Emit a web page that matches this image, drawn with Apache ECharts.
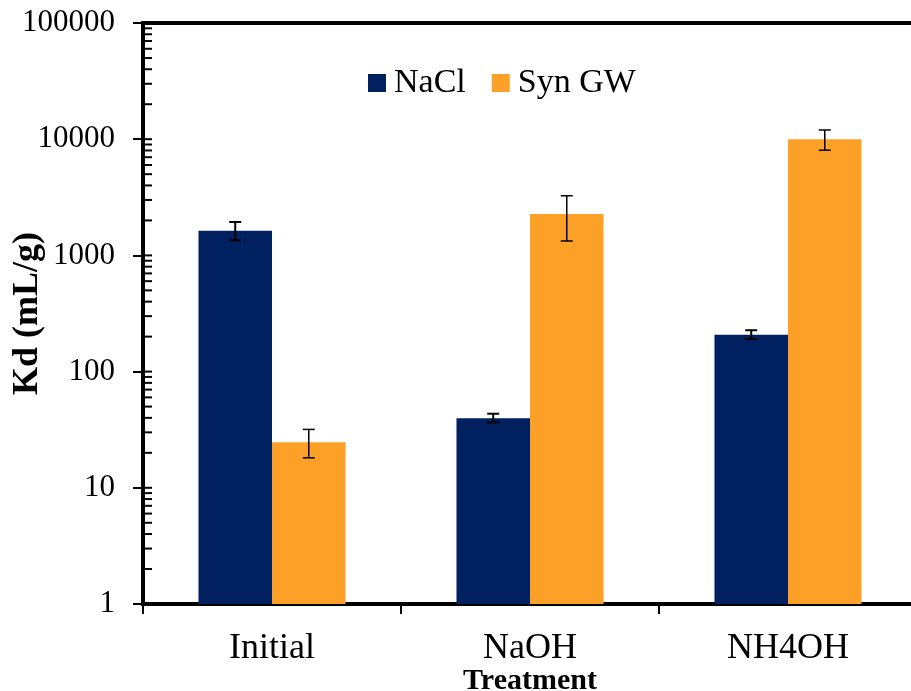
<!DOCTYPE html>
<html>
<head>
<meta charset="utf-8">
<script src="https://cdn.jsdelivr.net/npm/echarts@6/dist/echarts.min.js"></script>
<style>
  html, body { margin: 0; padding: 0; background: #fff; }
  #chart { width: 911px; height: 691px; }
</style>
</head>
<body>
<div id="chart"></div>
<script>
  // categories and values
  var categories = ['Initial', 'NaOH', 'NH4OH'];
  var seriesNames = ['NaCl', 'Syn GW'];
  var nacl = [1630, 39.6, 208];
  var synGW = [24.7, 2270, 10000];
  var naclLow = [1350, 36.6, 191];
  var naclHigh = [1940, 43.4, 227];
  var synLow = [18.1, 1330, 8040];
  var synHigh = [31.8, 3260, 12000];
  var minorTickValues = [];
  for (var k = 0; k < 5; k++) {
    for (var m = 1; m <= 9; m++) minorTickValues.push(m * Math.pow(10, k));
  }
  minorTickValues.push(100000);

  var font = "'Liberation Serif', 'Times New Roman', serif";
  var catGap = 0.43;

  function errData(low, high) {
    return low.map(function (v, i) { return [i, v, high[i]]; });
  }

  // error bars, side = -1 for left bar, +1 for right bar
  function errorRender(side, lw) {
    return function (params, api) {
      var i = api.value(0);
      var band = api.size([1, 0])[0];
      var off = side * band * (1 - catGap) / 4;
      var lo = api.coord([i, api.value(1)]);
      var hi = api.coord([i, api.value(2)]);
      var x = lo[0] + off;
      var cap = 6;
      var st = { stroke: '#000', lineWidth: lw };
      return {
        type: 'group',
        children: [
          { type: 'line', shape: { x1: x, y1: hi[1], x2: x, y2: lo[1] }, style: st },
          { type: 'line', shape: { x1: x - cap, y1: hi[1], x2: x + cap, y2: hi[1] }, style: st },
          { type: 'line', shape: { x1: x - cap, y1: lo[1], x2: x + cap, y2: lo[1] }, style: st }
        ]
      };
    };
  }

  var myChart = echarts.init(document.getElementById('chart'));
  myChart.setOption({
    animation: false,
    textStyle: { fontFamily: font },
    grid: {
      left: 143, top: 23, bottom: 87, right: -6,
      containLabel: false, outerBoundsMode: 'none',
      show: true, borderColor: '#000', borderWidth: 4, backgroundColor: 'transparent'
    },
    legend: {
      data: seriesNames,
      left: 363,
      top: 61,
      icon: 'rect',
      itemWidth: 18,
      itemHeight: 18,
      itemGap: 26,
      textStyle: { fontFamily: font, fontSize: 34, color: '#000', padding: [0, 0, 0, 3] }
    },
    xAxis: {
      type: 'category',
      data: categories,
      name: 'Treatment',
      nameLocation: 'middle',
      nameGap: 62,
      nameMoveOverlap: false,
      nameTextStyle: { fontFamily: font, fontSize: 30, fontWeight: 'bold', color: '#000' },
      axisLine: { lineStyle: { color: '#000', width: 4 } },
      axisTick: { show: true, alignWithLabel: false, interval: 0, length: 10, lineStyle: { color: '#000', width: 2 } },
      axisLabel: { fontFamily: font, fontSize: 36, color: '#000', margin: 27 }
    },
    yAxis: {
      type: 'log',
      logBase: 10,
      min: 1,
      max: 100000,
      name: 'Kd (mL/g)',
      nameLocation: 'middle',
      nameGap: 97,
      nameMoveOverlap: false,
      nameTextStyle: { fontFamily: font, fontSize: 36, fontWeight: 'bold', color: '#000' },
      axisLine: { show: true, lineStyle: { color: '#000', width: 4 } },
      axisTick: { show: true, length: 10, lineStyle: { color: '#000', width: 2 } },
      splitLine: { show: false },
      axisLabel: {
        fontFamily: font, fontSize: 31, color: '#000', margin: 28,
        formatter: function (v) { return String(Math.round(v)); }
      }
    },
    series: [
      {
        name: seriesNames[0], type: 'bar', data: nacl,
        barGap: '0%', barCategoryGap: (catGap * 100) + '%',
        itemStyle: { color: '#002060' }
      },
      {
        name: seriesNames[1], type: 'bar', data: synGW,
        barGap: '0%', barCategoryGap: (catGap * 100) + '%',
        itemStyle: { color: '#FCA027' }
      },
      {
        type: 'custom', name: 'errNaCl', data: errData(naclLow, naclHigh),
        encode: { x: 0, y: [1, 2] }, renderItem: errorRender(-1, 2), z: 5
      },
      {
        type: 'custom', name: 'errSyn', data: errData(synLow, synHigh),
        encode: { x: 0, y: [1, 2] }, renderItem: errorRender(1, 1.5), z: 5
      },
      {
        // inward minor ticks on the log axis
        type: 'custom', name: 'minorTicks',
        data: minorTickValues.map(function (v) { return [0, v]; }),
        encode: { x: 0, y: 1 },
        renderItem: function (params, api) {
          var p = api.coord([0, api.value(1)]);
          var x0 = params.coordSys.x;
          return {
            type: 'line',
            shape: { x1: x0, y1: p[1], x2: x0 + 9, y2: p[1] },
            style: { stroke: '#000', lineWidth: 2 }
          };
        },
        z: 6
      }
    ]
  });
</script>
</body>
</html>
